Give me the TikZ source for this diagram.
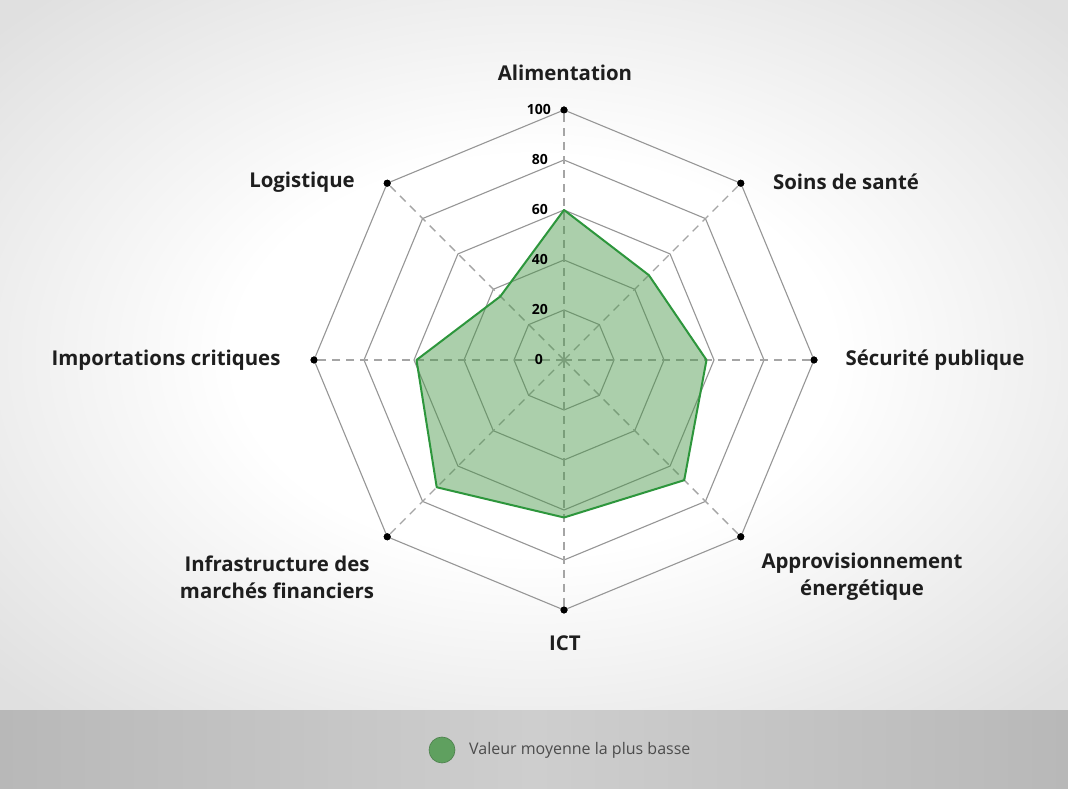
\documentclass[tikz,border=0pt]{standalone}
\usepackage{fontspec}
\setmainfont{Open Sans}
\definecolor{bgedge}{RGB}{224,224,224}
\definecolor{bandc}{RGB}{184,184,184}
\definecolor{bandmid}{RGB}{206,206,206}
\definecolor{ringc}{RGB}{150,150,150}
\definecolor{axisc}{RGB}{165,165,165}
\definecolor{fillc}{RGB}{70,150,70}
\definecolor{linec}{RGB}{45,150,60}
\definecolor{legc}{RGB}{95,160,95}
\definecolor{labc}{RGB}{30,30,30}
\pgfdeclareradialshading{bgshade}{\pgfpoint{0bp}{0bp}}{color(0bp)=(white); color(14bp)=(white); color(34bp)=(bgedge); color(50bp)=(bgedge)}
\tikzset{
  ring/.style={draw=ringc, line width=1.1pt},
  axisline/.style={draw=axisc, line width=1.4pt, dash pattern=on 8pt off 6pt},
  dot/.style={circle, fill=black, inner sep=0pt, minimum size=7pt},
  tick/.style={anchor=east, font=\fontsize{14}{16}\selectfont\bfseries, text=black, inner sep=0pt},
  catlabel/.style={font=\fontsize{20.4}{27}\selectfont\bfseries, text=labc, align=center, inner sep=0pt},
  datapoly/.style={fill=fillc, fill opacity=0.45, draw=linec, draw opacity=1, line width=2pt, line join=round}
}
\begin{document}
\begin{tikzpicture}[x=1pt,y=1pt]
\useasboundingbox (0,0) rectangle (1068,789);
% background
\shade[shading=bgshade] (0,78) rectangle (1068,789);
\shade[left color=bandc, right color=bandc, middle color=bandmid] (0,0) rectangle (1068,78);
\begin{scope}[shift={(564,429)}]
  \coordinate (O) at (0,0);
  % rings
  \foreach \r in {50,100,150,200,250}{
    \draw[ring] (0:\r) -- (45:\r) -- (90:\r) -- (135:\r) -- (180:\r) -- (225:\r) -- (270:\r) -- (315:\r) -- cycle;
  }
  % axis end dots
  \node[dot] (dN)  at (90:250) {};
  \node[dot] (dNE) at (45:250) {};
  \node[dot] (dE)  at (0:250) {};
  \node[dot] (dSE) at (-45:250) {};
  \node[dot] (dS)  at (-90:250) {};
  \node[dot] (dSW) at (-135:250) {};
  \node[dot] (dW)  at (180:250) {};
  \node[dot] (dNW) at (135:250) {};
  \foreach \d in {dN,dNE,dE,dSE,dS,dSW,dW,dNW}{
    \draw[axisline] (O) -- (\d.center);
  }
  % data
  \coordinate (vN)  at (90:150);
  \coordinate (vNE) at (45:120);
  \coordinate (vE)  at (0:142.5);
  \coordinate (vSE) at (-45:170);
  \coordinate (vS)  at (-90:157.5);
  \coordinate (vSW) at (-135:180);
  \coordinate (vW)  at (180:147.5);
  \coordinate (vNW) at (135:90);
  \draw[datapoly] (vN) -- (vNE) -- (vE) -- (vSE) -- (vS) -- (vSW) -- (vW) -- (vNW) -- cycle;
  % redraw dots on top
  \foreach \d in {dN,dNE,dE,dSE,dS,dSW,dW,dNW}{
    \fill (\d.center) circle (3.5pt);
  }
  % tick labels
  \node[tick] (t100) at (-13,250) {100};
  \node[tick] (t80)  at (-16,200) {80};
  \node[tick] (t60)  at (-16,150) {60};
  \node[tick] (t40)  at (-16,100) {40};
  \node[tick] (t20)  at (-16,50) {20};
  \node[tick] (t0)   at (-21,0) {0};
\end{scope}
% category labels
\node[catlabel] (lN)  at (565,716) {Alimentation};
\node[catlabel] (lNE) at (846,607) {Soins de santé};
\node[catlabel] (lE)  at (935,429) {Sécurité publique};
\node[catlabel] (lSE) at (862,212) {Approvisionnement\\énergétique};
\node[catlabel] (lS)  at (565,146) {ICT};
\node[catlabel] (lSW) at (277,212) {Infrastructure des\\marchés financiers};
\node[catlabel] (lW)  at (166,429) {Importations critiques};
\node[catlabel] (lNW) at (302,607) {Logistique};
% legend
\node[circle, fill=legc, draw=legc!80!black, line width=0.6pt, minimum size=26pt, inner sep=0pt] (legdot) at (442,39) {};
\node[anchor=west, font=\fontsize{16}{18}\selectfont, text=black!70, inner sep=0pt] (legtxt) at (469,39) {Valeur moyenne la plus basse};
\end{tikzpicture}
\end{document}
